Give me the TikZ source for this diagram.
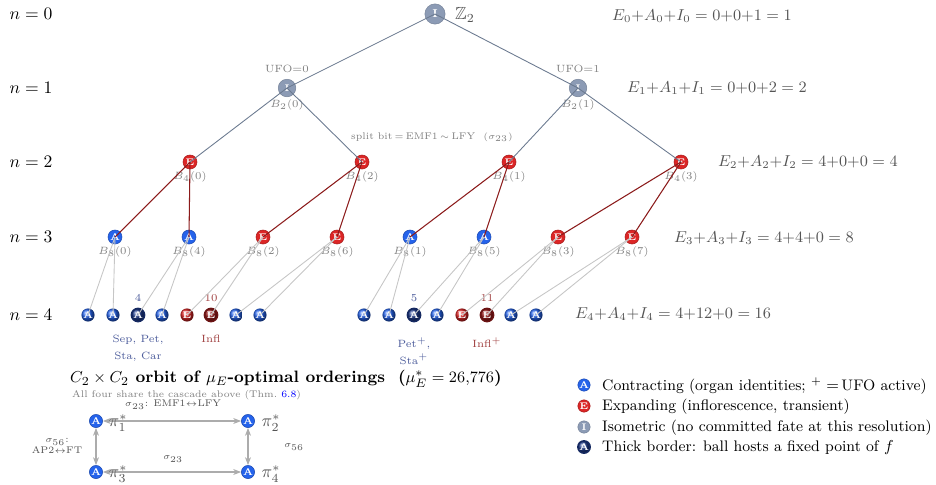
\documentclass[tikz,border=0pt]{standalone}
\usepackage{amsmath,amssymb}
\usetikzlibrary{arrows.meta}

\definecolor{cblue}{HTML}{2563EB}
\definecolor{cred}{HTML}{DC2626}
\definecolor{cgray}{HTML}{8C9BB5}
\definecolor{cnavy}{HTML}{1E3A8A}
\definecolor{cwine}{HTML}{991B1B}
\definecolor{slate}{HTML}{6B7A90}
\definecolor{rededge}{HTML}{8B1A1A}
\definecolor{eqgray}{HTML}{555555}
\definecolor{countblue}{HTML}{4A5A9A}
\definecolor{countred}{HTML}{A04040}

\begin{document}
\begin{tikzpicture}[x=0.02cm,y=-0.02cm,
  ballnode/.style={circle,inner sep=0pt,minimum size=8pt,text=white,
    font=\fontsize{5.5}{5.5}\selectfont\bfseries},
  contracting/.style={ballnode,fill=cblue,draw=cblue!75!black,line width=.3pt},
  expanding/.style={ballnode,fill=cred,draw=cred!75!black,line width=.3pt},
  isometric/.style={ballnode,fill=cgray,draw=cgray!85!black,line width=.3pt},
  leafA/.style={ballnode,shading=ball,ball color=cblue,minimum size=7.5pt},
  leafE/.style={ballnode,shading=ball,ball color=cred,minimum size=7.5pt},
  fixedA/.style={leafA,ball color=cnavy,draw=cnavy!70!black,line width=.9pt},
  fixedE/.style={leafE,ball color=cwine,draw=cwine!70!black,line width=.9pt},
  fate/.style={text=gray,font=\fontsize{6}{6.5}\selectfont},
  level/.style={font=\normalsize},
  balance/.style={anchor=west,text=eqgray,font=\fontsize{9}{11}\selectfont},
  upper/.style={slate,line width=.5pt},
  middle/.style={rededge,line width=.6pt},
  lower/.style={gray!45,line width=.5pt},
  count/.style={font=\fontsize{6}{7}\selectfont},
  organ/.style={align=center,font=\fontsize{6}{9.5}\selectfont},
  swap/.style={{Stealth[length=1.6mm]}-{Stealth[length=1.6mm]},gray!65,line width=.6pt},
  swaplabel/.style={text=eqgray,font=\fontsize{5.5}{6}\selectfont,align=center},
  legend/.style={anchor=west,font=\fontsize{8.7}{10}\selectfont}
]
\useasboundingbox (0,0) rectangle (936,484);

% level labels
\node[level] (n0) at (31,14) {$n=0$};
\node[level] (n1) at (31,88) {$n=1$};
\node[level] (n2) at (31,162) {$n=2$};
\node[level] (n3) at (31,237) {$n=3$};
\node[level] (n4) at (31,315) {$n=4$};

% the cascade
\node[isometric,minimum size=11.5pt,font=\fontsize{6.5}{6.5}\selectfont\bfseries] (r) at (435,14) {I};
\node[anchor=west,text=eqgray] (r-group) at (449,15) {$\mathbb{Z}_2$};

\node[isometric,minimum size=10pt,
  label={[fate]above:UFO$=$0},label={[fate,inner sep=1pt]below:$B_2(0)$}] (b2-0) at (287,88) {I};
\node[isometric,minimum size=10pt,
  label={[fate]above:UFO$=$1},label={[fate,inner sep=1pt]below:$B_2(1)$}] (b2-1) at (578,88) {I};

\node[expanding,label={[fate,inner sep=1pt]below:$B_4(0)$}] (b4-0) at (190,162) {E};
\node[expanding,label={[fate,inner sep=1pt]below:$B_4(2)$}] (b4-2) at (362,162) {E};
\node[expanding,label={[fate,inner sep=1pt]below:$B_4(1)$}] (b4-1) at (509,162) {E};
\node[expanding,label={[fate,inner sep=1pt]below:$B_4(3)$}] (b4-3) at (681,162) {E};
\node[fate,font=\fontsize{5.5}{6}\selectfont] (split) at (432,137) {split bit$\,=\,$EMF1$\,\sim\,$LFY\ \ $(\sigma_{23})$};

\node[contracting,label={[fate,inner sep=1pt]below:$B_8(0)$}] (b8-0) at (115,237) {A};
\node[contracting,label={[fate,inner sep=1pt]below:$B_8(4)$}] (b8-4) at (189,237) {A};
\node[expanding,label={[fate,inner sep=1pt]below:$B_8(2)$}] (b8-2) at (263,237) {E};
\node[expanding,label={[fate,inner sep=1pt]below:$B_8(6)$}] (b8-6) at (337,237) {E};
\node[contracting,label={[fate,inner sep=1pt]below:$B_8(1)$}] (b8-1) at (410,237) {A};
\node[contracting,label={[fate,inner sep=1pt]below:$B_8(5)$}] (b8-5) at (484,237) {A};
\node[expanding,label={[fate,inner sep=1pt]below:$B_8(3)$}] (b8-3) at (558,237) {E};
\node[expanding,label={[fate,inner sep=1pt]below:$B_8(7)$}] (b8-7) at (632,237) {E};

\node[leafA] (b16-0) at (88,315) {A};
\node[leafA] (b16-8) at (113,315) {A};
\node[fixedA,label={[count,text=countblue]above:4}] (b16-4) at (138,315) {A};
\node[leafA] (b16-12) at (162,315) {A};
\node[leafE] (b16-2) at (187,315) {E};
\node[fixedE,label={[count,text=countred]above:10}] (b16-10) at (211,315) {E};
\node[leafA] (b16-6) at (236,315) {A};
\node[leafA] (b16-14) at (260,315) {A};
\node[leafA] (b16-1) at (364,315) {A};
\node[leafA] (b16-9) at (389,315) {A};
\node[fixedA,label={[count,text=countblue]above:5}] (b16-5) at (414,315) {A};
\node[leafA] (b16-13) at (437,315) {A};
\node[leafE] (b16-3) at (462,315) {E};
\node[fixedE,label={[count,text=countred]above:11}] (b16-11) at (487,315) {E};
\node[leafA] (b16-7) at (511,315) {A};
\node[leafA] (b16-15) at (536,315) {A};

\node[organ,text=countblue,anchor=north] (organs-4) at (138,329) {Sep, Pet,\\Sta, Car};
\node[organ,text=countred,anchor=north] (organs-10) at (211,329) {Infl};
\node[organ,text=countblue,anchor=north] (organs-5) at (414,331) {Pet$^+$,\\Sta$^+$};
\node[organ,text=countred,anchor=north] (organs-11) at (487,331) {Infl$^+$};

\draw[upper] (r.center) -- (b2-0.center);
\draw[upper] (r.center) -- (b2-1.center);
\draw[upper] (b2-0.center) -- (b4-0.center);
\draw[upper] (b2-0.center) -- (b4-2.center);
\draw[upper] (b2-1.center) -- (b4-1.center);
\draw[upper] (b2-1.center) -- (b4-3.center);

\draw[middle] (b4-0.center) -- (b8-0.center);
\draw[middle] (b4-0.center) -- (b8-4.center);
\draw[middle] (b4-2.center) -- (b8-2.center);
\draw[middle] (b4-2.center) -- (b8-6.center);
\draw[middle] (b4-1.center) -- (b8-1.center);
\draw[middle] (b4-1.center) -- (b8-5.center);
\draw[middle] (b4-3.center) -- (b8-3.center);
\draw[middle] (b4-3.center) -- (b8-7.center);

\draw[lower] (b8-0.center) -- (b16-0.center);
\draw[lower] (b8-0.center) -- (b16-8.center);
\draw[lower] (b8-4.center) -- (b16-4.center);
\draw[lower] (b8-4.center) -- (b16-12.center);
\draw[lower] (b8-2.center) -- (b16-2.center);
\draw[lower] (b8-2.center) -- (b16-10.center);
\draw[lower] (b8-6.center) -- (b16-6.center);
\draw[lower] (b8-6.center) -- (b16-14.center);
\draw[lower] (b8-1.center) -- (b16-1.center);
\draw[lower] (b8-1.center) -- (b16-9.center);
\draw[lower] (b8-5.center) -- (b16-5.center);
\draw[lower] (b8-5.center) -- (b16-13.center);
\draw[lower] (b8-3.center) -- (b16-3.center);
\draw[lower] (b8-3.center) -- (b16-11.center);
\draw[lower] (b8-7.center) -- (b16-7.center);
\draw[lower] (b8-7.center) -- (b16-15.center);

% ball counts per level
\node[balance] (eq0) at (606,16) {$E_0{+}A_0{+}I_0=0{+}0{+}1=1$};
\node[balance] (eq1) at (621,88) {$E_1{+}A_1{+}I_1=0{+}0{+}2=2$};
\node[balance] (eq2) at (712,162) {$E_2{+}A_2{+}I_2=4{+}0{+}0=4$};
\node[balance] (eq3) at (668,238) {$E_3{+}A_3{+}I_3=4{+}4{+}0=8$};
\node[balance] (eq4) at (569,314) {$E_4{+}A_4{+}I_4=4{+}12{+}0=16$};

% orbit of optimal orderings
\node[anchor=west,font=\fontsize{9.4}{11}\selectfont\bfseries] (orbit) at (64,379)
  {$C_2\times C_2$ orbit of $\mu_E$-optimal orderings \ ($\mu_E^*=26{,}776$)};
\node[anchor=west,text=gray,font=\fontsize{5.5}{6}\selectfont] (orbit-note) at (66,395)
  {All four share the cascade above (Thm.~\textcolor{blue}{6.8})};
\node[contracting,minimum size=7.5pt] (p1) at (96,421) {A};
\node[contracting,minimum size=7.5pt] (p2) at (248,421) {A};
\node[contracting,minimum size=7.5pt] (p3) at (96,472) {A};
\node[contracting,minimum size=7.5pt] (p4) at (248,472) {A};
\draw[swap] (p1) -- (p2);
\draw[swap] (p3) -- (p4);
\draw[swap] (p1) -- (p3);
\draw[swap] (p2) -- (p4);
\node[text=eqgray] (p1-name) at (118,423) {$\pi_1^*$};
\node[text=eqgray] (p2-name) at (271,423) {$\pi_2^*$};
\node[text=eqgray] (p3-name) at (118,474) {$\pi_3^*$};
\node[text=eqgray] (p4-name) at (271,474) {$\pi_4^*$};
\node[swaplabel] (s23-top) at (173,405) {$\sigma_{23}$: EMF1$\leftrightarrow$LFY};
\node[swaplabel] (s56-left) at (57,446) {$\sigma_{56}$:\\AP2$\leftrightarrow$FT};
\node[swaplabel] (s56-right) at (294,447) {$\sigma_{56}$};
\node[swaplabel] (s23-mid) at (173,459) {$\sigma_{23}$};

% legend
\node[contracting,minimum size=7pt] (key-a) at (584,385) {A};
\node[expanding,minimum size=7pt] (key-e) at (584,406) {E};
\node[isometric,minimum size=7pt] (key-i) at (584,427) {I};
\node[fixedA,minimum size=7pt] (key-f) at (584,447) {A};
\node[legend] (key-a-text) at (596,386) {Contracting (organ identities; $^+=$\,UFO active)};
\node[legend] (key-e-text) at (596,407) {Expanding (inflorescence, transient)};
\node[legend] (key-i-text) at (596,428) {Isometric (no committed fate at this resolution)};
\node[legend] (key-f-text) at (596,448) {Thick border: ball hosts a fixed point of $f$};
\end{tikzpicture}
\end{document}
